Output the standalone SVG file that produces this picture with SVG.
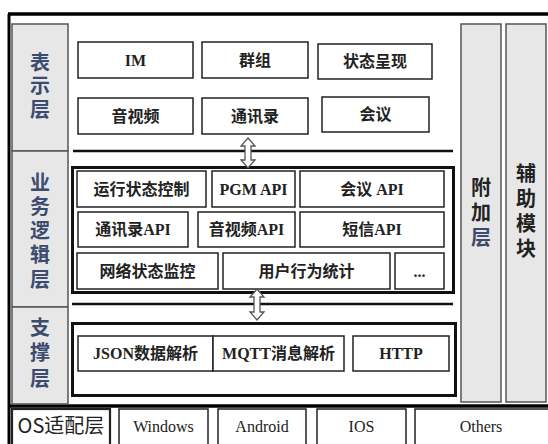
<svg xmlns="http://www.w3.org/2000/svg" width="548" height="444" viewBox="0 0 548 444">
<style>
.g{fill:#e7e7e7;stroke:#555;stroke-width:1.5}
.b{fill:#fff;stroke:#222;stroke-width:1.5}
.bt{fill:none;stroke:#111;stroke-width:3}
.ln{stroke:#111;stroke-width:2.5;fill:none}
.t{font-family:"Liberation Serif","Noto Sans CJK SC",serif;font-size:16px;font-weight:bold;text-anchor:middle;fill:#222}
.v{font-family:"Noto Sans CJK SC",sans-serif;font-size:20px;font-weight:bold;fill:#3d4b6e;writing-mode:vertical-rl;text-orientation:upright}
.k{fill:#222}
.a{fill:#fff;stroke:#555;stroke-width:1.3}
</style>
<rect width="548" height="444" fill="#fff"/>
<g id="frame">
<line x1="8" y1="14" x2="548" y2="14" stroke="#000" stroke-width="3.5"/>
<line x1="9" y1="14" x2="9" y2="444" stroke="#000" stroke-width="3"/>
<line x1="8" y1="406" x2="548" y2="406" stroke="#000" stroke-width="3.5"/>
</g>
<g id="layer-present">
<rect class="g" x="12" y="24" width="56" height="127"/>
<text class="v" x="40" y="52" style="letter-spacing:3.5px">表示层</text>
</g>
<g id="layer-logic">
<rect class="g" x="12" y="151" width="56" height="156"/>
<text class="v" x="40" y="172" style="letter-spacing:4.25px">业务逻辑层</text>
</g>
<g id="layer-support">
<rect class="g" x="12" y="307" width="56" height="97"/>
<text class="v" x="40" y="317" style="letter-spacing:5.5px">支撑层</text>
</g>
<g id="layer-extra">
<rect class="g" x="461" y="24" width="40" height="378"/>
<text class="v" x="481" y="177" style="letter-spacing:5px"><tspan class="k">附加</tspan>层</text>
</g>
<g id="layer-aux">
<rect class="g" x="506" y="24" width="40" height="378"/>
<text class="v k" x="526" y="163" style="letter-spacing:5px">辅助模块</text>
</g>
<g id="im"><rect class="b" x="78" y="42" width="115" height="36"/><text class="t" x="135.5" y="66">IM</text></g>
<g id="group"><rect class="b" x="202" y="42" width="106" height="36"/><text class="t" x="255" y="66">群组</text></g>
<g id="presence"><rect class="b" x="318" y="44" width="114" height="35"/><text class="t" x="375" y="67">状态呈现</text></g>
<g id="av"><rect class="b" x="78" y="98" width="115" height="36"/><text class="t" x="135.5" y="122">音视频</text></g>
<g id="contacts"><rect class="b" x="202" y="98" width="106" height="36"/><text class="t" x="255" y="122">通讯录</text></g>
<g id="meeting"><rect class="b" x="322" y="97" width="107" height="35"/><text class="t" x="375.5" y="120">会议</text></g>
<g id="logic-box"><rect class="bt" x="72.5" y="167.5" width="381" height="125"/></g>
<g id="runstate"><rect class="b" x="77" y="171" width="129" height="36"/><text class="t" x="141.5" y="195">运行状态控制</text></g>
<g id="pgm"><rect class="b" x="212" y="171" width="83" height="36"/><text class="t" x="253.5" y="195">PGM API</text></g>
<g id="meetapi"><rect class="b" x="300" y="171" width="144" height="36"/><text class="t" x="372" y="195">会议 API</text></g>
<g id="contactapi"><rect class="b" x="78" y="212" width="110" height="35"/><text class="t" x="133" y="235">通讯录API</text></g>
<g id="avapi"><rect class="b" x="198" y="212" width="97" height="35"/><text class="t" x="246.5" y="235">音视频API</text></g>
<g id="smsapi"><rect class="b" x="300" y="212" width="144" height="35"/><text class="t" x="372" y="235">短信API</text></g>
<g id="netmon"><rect class="b" x="77" y="253" width="141" height="36"/><text class="t" x="147.5" y="277">网络状态监控</text></g>
<g id="userstat"><rect class="b" x="223" y="253" width="167" height="36"/><text class="t" x="306.5" y="277">用户行为统计</text></g>
<g id="more"><rect class="b" x="395" y="253" width="49" height="36"/><text class="t" x="419.5" y="277">...</text></g>
<g id="support-box"><rect class="bt" x="72.5" y="323.5" width="383" height="72"/></g>
<g id="json"><rect class="b" x="78" y="336" width="135" height="35"/><text class="t" x="145.5" y="359">JSON数据解析</text></g>
<g id="mqtt"><rect class="b" x="213" y="336" width="131" height="35"/><text class="t" x="278.5" y="359">MQTT消息解析</text></g>
<g id="http"><rect class="b" x="353" y="336" width="96" height="35"/><text class="t" x="401" y="359">HTTP</text></g>
<g id="os"><rect x="12" y="409" width="98" height="37" fill="#fff" stroke="#222" stroke-width="2.2"/><text class="t" x="61" y="433" style="font-size:20px;font-weight:normal;font-family:'Liberation Sans Narrow','Noto Sans CJK SC',sans-serif">OS适配层</text></g>
<g id="windows"><rect class="b" x="119" y="409" width="89" height="37"/><text class="t" x="163.5" y="432" style="font-weight:normal">Windows</text></g>
<g id="android"><rect class="b" x="218" y="409" width="88" height="37"/><text class="t" x="262" y="432" style="font-weight:normal">Android</text></g>
<g id="ios"><rect class="b" x="317" y="409" width="89" height="37"/><text class="t" x="361.5" y="432" style="font-weight:normal">IOS</text></g>
<g id="others"><rect class="b" x="415" y="409" width="135" height="37"/><text class="t" x="481" y="432" style="font-weight:normal">Others</text></g>
<g id="connectors">
<line class="ln" x1="73" y1="151" x2="453" y2="151"/>
<line class="ln" x1="72" y1="304" x2="453" y2="304"/>
<path class="a" d="M248,138 L255,146 L251,146 L251,160 L255,160 L248,168 L241,160 L245,160 L245,146 L241,146 Z"/>
<path class="a" d="M257,289 L264,297 L260,297 L260,312 L264,312 L257,320 L250,312 L254,312 L254,297 L250,297 Z"/>
</g>
</svg>
